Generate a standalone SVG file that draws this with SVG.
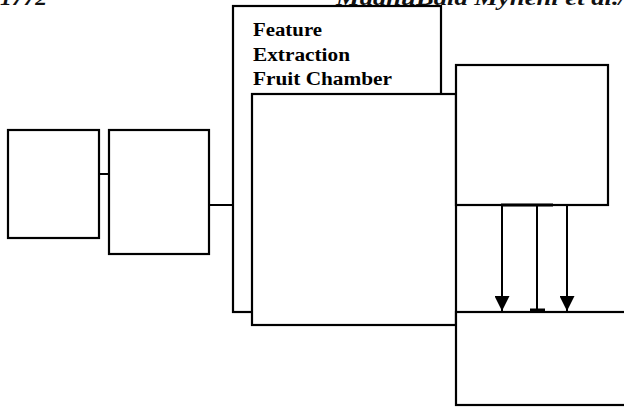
<svg xmlns="http://www.w3.org/2000/svg" width="624" height="407" viewBox="0 0 624 407">
<style>
.box{fill:#fff;stroke:#000;stroke-width:2.2}
.ln{stroke:#000;stroke-width:2;fill:none}
.lbl{font-family:"Liberation Serif","Times New Roman",serif;font-weight:bold;font-size:18px;fill:#000}
.hdr{font-family:"Liberation Serif","Times New Roman",serif;font-weight:bold;font-style:italic;font-size:21px;fill:#111}
</style>
<defs>
<marker id="ah" markerUnits="userSpaceOnUse" markerWidth="15" markerHeight="15" refX="15" refY="7.5" orient="auto" viewBox="0 0 15 15">
<path d="M0,0 L15,7.5 L0,15 Z" fill="#000"/>
</marker>
</defs>
<text class="hdr" x="0" y="5" textLength="47" lengthAdjust="spacingAndGlyphs">1772</text>
<text class="hdr" x="336" y="5" textLength="290" lengthAdjust="spacingAndGlyphs">MadhuBala Myneni et al./</text>
<g id="connectors">
<line class="ln" x1="99" y1="174" x2="109" y2="174"/>
<line class="ln" x1="209" y1="205" x2="233" y2="205"/>
</g>
<g id="boxA"><rect class="box" x="8" y="130" width="91" height="108"/></g>
<g id="boxB"><rect class="box" x="109" y="130" width="100" height="124"/></g>
<g id="featureBox">
<rect class="box" x="233" y="6" width="208" height="306"/>
<text class="lbl" x="253" y="36" textLength="69" lengthAdjust="spacingAndGlyphs">Feature</text>
<text class="lbl" x="253" y="61" textLength="97" lengthAdjust="spacingAndGlyphs">Extraction</text>
<text class="lbl" x="253" y="85" textLength="139" lengthAdjust="spacingAndGlyphs">Fruit Chamber</text>
</g>
<g id="innerBox"><rect class="box" x="252" y="94" width="204" height="231"/></g>
<g id="topRightBox"><rect class="box" x="456" y="65" width="152" height="140"/></g>
<g id="bottomRightBox"><rect class="box" x="456" y="312" width="172" height="93"/></g>
<g id="busConnectors">
<line x1="501" y1="205" x2="553" y2="205" stroke="#000" stroke-width="3"/>
<line class="ln" x1="502" y1="205" x2="502" y2="311" marker-end="url(#ah)"/>
<line class="ln" x1="567" y1="205" x2="567" y2="311" marker-end="url(#ah)"/>
<line class="ln" x1="537" y1="205" x2="537" y2="310"/>
<line x1="530" y1="310" x2="545" y2="310" stroke="#000" stroke-width="3"/>
</g>
</svg>
